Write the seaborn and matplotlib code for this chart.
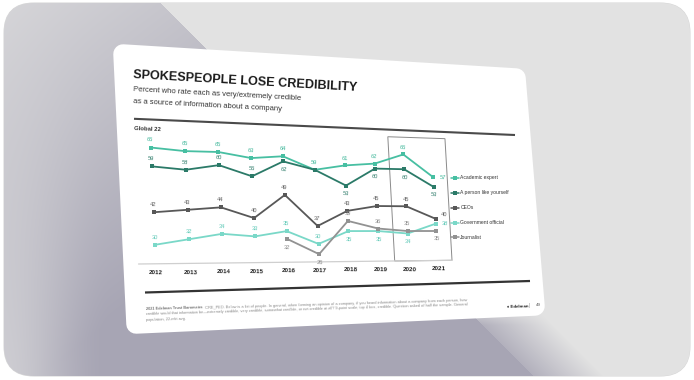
import numpy as np
import pandas as pd
import matplotlib
matplotlib.use("Agg")
import matplotlib.pyplot as plt
import seaborn as sns
from matplotlib import font_manager
from matplotlib.lines import Line2D
from matplotlib.patches import FancyBboxPatch, Polygon, Rectangle
from matplotlib.transforms import Transform

# data
years = [2012, 2013, 2014, 2015, 2016, 2017, 2018, 2019, 2020, 2021]
academic_expert = [66, 65, 65, 63, 64, 59, 61, 62, 66, 57]
person_like_yourself = [59, 58, 60, 56, 62, 59, 53, 60, 60, 53]
ceos = [42, 43, 44, 40, 49, 37, 43, 45, 45, 40]
government_official = [30, 32, 34, 33, 35, 30, 35, 35, 34, 38]
journalist = [None, None, None, None, 32, 26, 39, 36, 35, 35]
series_names = ["Academic expert", "A person like yourself", "CEOs",
                "Government official", "Journalist"]

# where each value label sits: a=above, b=below, r=right, ar=above right
label_side = [
    ["a"] * 9 + ["r"],
    ["a", "a", "a", "a", "b", None, "b", "b", "b", "b"],
    ["a"] * 9 + ["ar"],
    ["a", "a", "a", "a", "a", "a", "b", "b", "b", "r"],
    [None, None, None, None, "b", "b", "a", "a", "a", "b"],
]
line_colors = ["#47bfa2", "#2b7a68", "#585858", "#7ad8c8", "#929292"]
text_colors = ["#3bb597", "#2b7a68", "#606060", "#5cc8b6", "#8a8a8a"]

df = pd.DataFrame({"year": years,
                   series_names[0]: academic_expert,
                   series_names[1]: person_like_yourself,
                   series_names[2]: ceos,
                   series_names[3]: government_official,
                   series_names[4]: journalist})
long_df = df.melt("year", var_name="series", value_name="pct").dropna()

sns.set_theme(style="white")
installed = {f.name for f in font_manager.fontManager.ttflist}
if "Liberation Sans Narrow" in installed:
    plt.rcParams["font.family"] = ["Liberation Sans Narrow", "DejaVu Sans"]
    fs = 1.0
else:
    # no condensed face: shrink so the text widths match the slide
    plt.rcParams["font.family"] = ["Liberation Sans", "DejaVu Sans"]
    fs = 0.83

W, H = 694, 380
fig = plt.figure(figsize=(W / 100, H / 100), dpi=100)
fig.patch.set_facecolor("white")

# background layer in image pixel coords (y down)
bg = fig.add_axes([0, 0, 1, 1])
bg.set_xlim(0, W)
bg.set_ylim(H, 0)
bg.axis("off")

card = FancyBboxPatch((4, 3), 686, 373, boxstyle="round,pad=0,rounding_size=30",
                      fc="#e2e2e2", ec="#d9d9d9", lw=0.8, zorder=0)
bg.add_patch(card)

# diagonal shadow behind the slide
yy, xx = np.mgrid[0:H, 0:W] + 0.5
diag = 158 + yy
s = np.clip(xx / 110, 0, 1)
s = s * s * (3 - 2 * s)
fade = 1 - (1 - s) * 0.65 * (yy / H)
t_main = np.clip(0.2 + 0.75 * yy / H + 0.0015 * xx, 0, 1) * fade
t_main = np.where(xx < diag, t_main, 0)
t_tail = np.clip(1 - (xx - diag) / 70, 0, 1) * np.clip((yy - 300) / 25, 0, 1) * 0.8
t_tail = np.where(xx >= diag, t_tail, 0)
t = np.maximum(t_main, t_tail)
light = np.array([226, 226, 226]) / 255
dark = np.array([167, 165, 180]) / 255
img = light + t[..., None] * (dark - light)
im = bg.imshow(img, extent=(0, W, H, 0), zorder=1, aspect="auto", interpolation="bilinear")
im.set_clip_path(card)
bg.set_xlim(0, W)
bg.set_ylim(H, 0)

# the tilted slide
slide = Polygon([(123, 54), (516, 78), (535, 306), (136, 324)], closed=True,
                fc="white", ec="white", lw=14, joinstyle="round", zorder=3)
bg.add_patch(slide)

bg.text(133, 78, "SPOKESPEOPLE LOSE CREDIBILITY", fontsize=11 * fs, weight="bold",
        color="#1b1b1b", rotation=-3.3, rotation_mode="anchor", ha="left",
        va="baseline", zorder=5)
bg.text(133.5, 91.2, "Percent who rate each as very/extremely credible", fontsize=6.6 * fs,
        color="#333333", rotation=-3.1, rotation_mode="anchor", va="baseline", zorder=5)
bg.text(133.5, 102.7, "as a source of information about a company", fontsize=6.6 * fs,
        color="#333333", rotation=-3.0, rotation_mode="anchor", va="baseline", zorder=5)
bg.plot([134, 515], [118.8, 135], color="#4a4a4a", lw=1.5, solid_capstyle="butt", zorder=5)
bg.plot([145, 530], [292.5, 281], color="#333333", lw=1.6, solid_capstyle="butt", zorder=5)

fn = 3.4 * fs
f1 = bg.text(146, 310.5, "2021 Edelman Trust Barometer.", fontsize=fn, weight="bold",
             color="#777777", rotation=1.7, va="bottom", zorder=5)
bg.annotate(" CRE_PEO. Below is a list of people. In general, when forming an opinion of a company, "
            "if you heard information about a company from each person, how",
            xy=(1, 0), xycoords=f1, fontsize=fn, color="#888888", rotation=1.7,
            ha="left", va="bottom", zorder=5)
bg.text(146, 316.3, "credible would that information be\u2014extremely credible, very credible, "
        "somewhat credible, or not credible at all? 9-point scale; top 4 box, credible. "
        "Question asked of half the sample. General", fontsize=fn, color="#888888",
        rotation=1.7, va="bottom", zorder=5)
bg.text(146, 322, "population, 22-mkt avg.", fontsize=fn, color="#888888",
        rotation=1.7, va="bottom", zorder=5)
bg.text(507, 306.5, "\u2666 Edelman", fontsize=3.8 * fs, weight="bold", color="#222222",
        rotation=1.7, ha="left", va="center", zorder=5)
bg.text(529, 305.5, "|", fontsize=3.6, color="#999999", ha="center", va="center", zorder=5)
bg.text(536, 305, "49", fontsize=3.8 * fs, color="#555555", ha="left", va="center", zorder=5)

# chart drawn flat, then warped onto the slide
ax_l, ax_r, ax_b, ax_t = 135, 448, 116, 263
ax = fig.add_axes([ax_l / W, ax_b / H, (ax_r - ax_l) / W, (ax_t - ax_b) / H])
ax.set_xlim(2011.5, 2021.5)
ax.set_ylim(23, 77)
ax.axis("off")

sns.lineplot(data=long_df, x="year", y="pct", hue="series", style="series",
             hue_order=series_names, style_order=series_names, palette=line_colors,
             markers=["s"] * 5, dashes=False, markersize=3.2, markeredgewidth=0,
             linewidth=1.3, errorbar=None, legend=False, ax=ax)

ax.axhline(23, color="#cfcfcf", lw=0.9)
ax.add_patch(Rectangle((2019.5, 23), 2.0, 50, fill=False, ec="#8a8a8a", lw=0.7))

offsets = {"a": (0, 2.8, "center"), "b": (0, -3.3, "center"),
           "r": (0.22, 0, "left"), "ar": (0.2, 1.7, "left")}
all_vals = [academic_expert, person_like_yourself, ceos, government_official, journalist]
for vals, sides, tc in zip(all_vals, label_side, text_colors):
    for yr, v, side in zip(years, vals, sides):
        if v is None or side is None:
            continue
        dx, dy, ha = offsets[side]
        ax.text(yr + dx, v + dy, str(v), fontsize=5 * fs, color=tc, ha=ha, va="center",
                rotation=-2.5)

for yr in years:
    ax.text(yr, 19.6, str(yr), fontsize=5.4 * fs, weight="bold", color="#222222",
            ha="center", va="center", rotation=-1.5)
ax.text(2011.55, 72.8, "Global 22", fontsize=5.2 * fs, weight="bold", color="#333333",
        ha="left", va="center", rotation=-2.4)


class Warp(Transform):
    input_dims = 2
    output_dims = 2

    def __init__(self, m):
        super().__init__()
        self.m = m

    def transform_non_affine(self, values):
        v = np.asarray(values, dtype=float)
        p = np.column_stack([v, np.ones(len(v))]) @ self.m.T
        return p[:, :2] / p[:, 2:]


def homography(src, dst):
    a, b = [], []
    for (x, y), (u, v) in zip(src, dst):
        a.append([x, y, 1, 0, 0, 0, -u * x, -u * y])
        b.append(u)
        a.append([0, 0, 0, x, y, 1, -v * x, -v * y])
        b.append(v)
    h = np.linalg.solve(np.array(a, float), np.array(b, float))
    return np.append(h, 1).reshape(3, 3)


# plot-area corners on the slide picture (image px, y down)
quad = [(138.5, 264), (452, 260.3), (444.4, 129), (132, 117.3)]
src = [(ax_l, ax_b), (ax_r, ax_b), (ax_r, ax_t), (ax_l, ax_t)]
dst = [(x, H - y) for x, y in quad]
warp = Warp(homography(src, dst))

for art in list(ax.lines) + list(ax.texts):
    art.set_transform(art.get_transform() + warp)
    art.set_clip_on(False)
for p in list(ax.patches):
    p.set_transform(ax.transData + warp)
    p.set_clip_on(False)

handles = [Line2D([], [], color=c, marker="s", ms=2.6, mew=0, lw=1.1) for c in line_colors]
bg.legend(handles, series_names, loc="upper left", bbox_to_anchor=(451, 175.5),
          bbox_transform=bg.transData, frameon=False, fontsize=4.3 * fs, handlelength=1.6,
          handletextpad=0.3, labelspacing=2.0, borderpad=0, borderaxespad=0,
          labelcolor="#333333").set_zorder(6)

fig.savefig("out.png", dpi=100)
